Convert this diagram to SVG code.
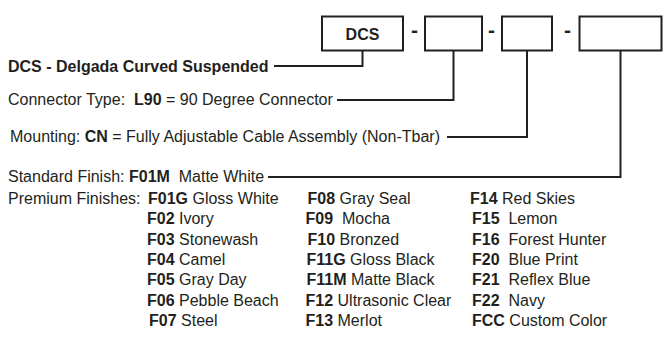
<svg xmlns="http://www.w3.org/2000/svg" width="670" height="339" viewBox="0 0 670 339">
<style>
text{font-family:"Liberation Sans",Arial,sans-serif;font-size:16px;fill:#231f20}
.b{font-weight:bold}
.d{font-size:21px;font-weight:bold}
.box{fill:#fff;stroke:#231f20;stroke-width:2}
.ln{fill:none;stroke:#231f20;stroke-width:2}
</style>
<rect width="670" height="339" fill="#fff"/>
<g id="code-dcs"><rect class="box" x="322" y="16.5" width="81" height="34"/><text class="b" x="362.5" y="39.5" text-anchor="middle">DCS</text></g>
<g id="dash1"><text class="d" x="414.5" y="37" text-anchor="middle">-</text></g>
<g id="code-connector"><rect class="box" x="425" y="16.5" width="57" height="34"/></g>
<g id="dash2"><text class="d" x="491.5" y="37" text-anchor="middle">-</text></g>
<g id="code-mounting"><rect class="box" x="502" y="16.5" width="50" height="34"/></g>
<g id="dash3"><text class="d" x="567.5" y="37" text-anchor="middle">-</text></g>
<g id="code-finish"><rect class="box" x="579.5" y="16.5" width="82" height="34"/></g>
<g id="connectors">
<path class="ln" d="M362.5,50.5V66H274"/>
<path class="ln" d="M453.5,50.5V100H337"/>
<path class="ln" d="M527,50.5V137H447"/>
<path class="ln" d="M620.5,50.5V177H268"/>
</g>
<g id="label-dcs"><text class="b" x="8" y="72">DCS - Delgada Curved Suspended</text></g>
<g id="label-connector"><text x="8" y="105" xml:space="preserve">Connector Type:  <tspan class="b">L90</tspan> = 90 Degree Connector</text></g>
<g id="label-mounting"><text x="10" y="142">Mounting: <tspan class="b">CN</tspan> = Fully Adjustable Cable Assembly (Non-Tbar)</text></g>
<g id="label-finish"><text x="8" y="182" xml:space="preserve">Standard Finish: <tspan class="b">F01M</tspan>  Matte White</text></g>
<g id="premium-finishes">
<text x="8" y="204">Premium Finishes:</text>
<text x="148" y="204"><tspan class="b">F01G</tspan> Gloss White</text>
<text x="147" y="224.3"><tspan class="b">F02</tspan> Ivory</text>
<text x="147" y="244.7"><tspan class="b">F03</tspan> Stonewash</text>
<text x="147" y="265"><tspan class="b">F04</tspan> Camel</text>
<text x="147" y="285.3"><tspan class="b">F05</tspan> Gray Day</text>
<text x="147" y="305.7"><tspan class="b">F06</tspan> Pebble Beach</text>
<text x="149" y="326"><tspan class="b">F07</tspan> Steel</text>
<text x="307.5" y="204"><tspan class="b">F08</tspan> Gray Seal</text>
<text x="305.5" y="224.3" xml:space="preserve"><tspan class="b">F09</tspan>  Mocha</text>
<text x="307.5" y="244.7"><tspan class="b">F10</tspan> Bronzed</text>
<text x="306.5" y="265"><tspan class="b">F11G</tspan> Gloss Black</text>
<text x="306.5" y="285.3"><tspan class="b">F11M</tspan> Matte Black</text>
<text x="305.5" y="305.7"><tspan class="b">F12</tspan> Ultrasonic Clear</text>
<text x="305.5" y="326"><tspan class="b">F13</tspan> Merlot</text>
<text x="470" y="204"><tspan class="b">F14</tspan> Red Skies</text>
<text x="472" y="224.3" xml:space="preserve"><tspan class="b">F15</tspan>  Lemon</text>
<text x="472" y="244.7" xml:space="preserve"><tspan class="b">F16</tspan>  Forest Hunter</text>
<text x="472" y="265" xml:space="preserve"><tspan class="b">F20</tspan>  Blue Print</text>
<text x="472" y="285.3" xml:space="preserve"><tspan class="b">F21</tspan>  Reflex Blue</text>
<text x="472" y="305.7" xml:space="preserve"><tspan class="b">F22</tspan>  Navy</text>
<text x="472" y="326"><tspan class="b">FCC</tspan> Custom Color</text>
</g>
</svg>
